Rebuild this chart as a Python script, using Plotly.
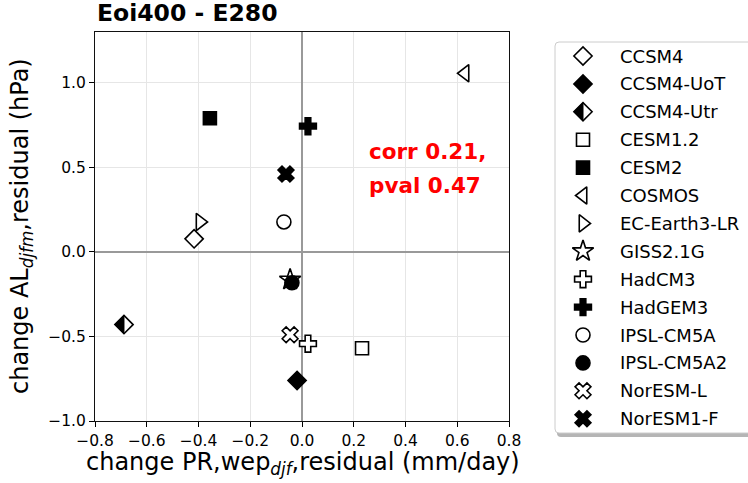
import plotly.graph_objects as go

# ---- data ----
models = ["CCSM4", "CCSM4-UoT", "CCSM4-Utr", "CESM1.2", "CESM2", "COSMOS",
          "EC-Earth3-LR", "GISS2.1G", "HadCM3", "HadGEM3", "IPSL-CM5A",
          "IPSL-CM5A2", "NorESM-L", "NorESM1-F"]
pr_change = [-0.417, -0.019, -0.688, 0.232, -0.356, 0.630,
             -0.394, -0.046, 0.023, 0.023, -0.070,
             -0.039, -0.046, -0.062]
al_change = [0.077, -0.760, -0.430, -0.570, 0.790, 1.056,
             0.177, -0.165, -0.543, 0.743, 0.177,
             -0.183, -0.490, 0.460]
symbols = ["diamond", "diamond", "diamond", "square", "square", "triangle-left",
           "triangle-right", "star", "cross", "cross", "circle",
           "circle", "x", "x"]
fills = ["white", "black", "white", "white", "black", "white",
         "white", "white", "white", "black", "white",
         "black", "white", "black"]
sizes = [14, 14, 14, 13, 13, 15, 15, 16, 14, 14, 14, 14, 14, 14]
half_filled = "CCSM4-Utr"
corr_text = ["corr 0.21,", "pval 0.47"]
x_ticks = [-0.8, -0.6, -0.4, -0.2, 0.0, 0.2, 0.4, 0.6, 0.8]
y_ticks = [-1.0, -0.5, 0.0, 0.5, 1.0]

W, H = 748, 483
FONT = "DejaVu Sans"

fig = go.Figure()

# main scatter
for m, xv, yv, sym, fc, sz in zip(models, pr_change, al_change, symbols, fills, sizes):
    fig.add_trace(go.Scatter(
        x=[xv], y=[yv], mode="markers", name=m, showlegend=False,
        marker=dict(symbol=sym, size=sz, color=fc,
                    line=dict(color="black", width=1.6)),
        xaxis="x", yaxis="y"))

# manual legend on a pixel-coordinate overlay axis
leg_x_marker = 583
leg_x_text = 618
leg_y0 = 56
leg_dy = 27.9
leg_rows = [leg_y0 + leg_dy * i for i in range(len(models))]
for m, sym, fc, sz, ly in zip(models, symbols, fills, sizes, leg_rows):
    fig.add_trace(go.Scatter(
        x=[leg_x_marker], y=[ly], mode="markers", showlegend=False,
        marker=dict(symbol=sym, size=sz, color=fc,
                    line=dict(color="black", width=1.6)),
        xaxis="x2", yaxis="y2", hoverinfo="skip"))
    fig.add_annotation(x=leg_x_text, y=ly, xref="x2", yref="y2", text=m,
                       showarrow=False, xanchor="left", yanchor="middle",
                       font=dict(family=FONT, size=18, color="black"))

shapes = []
# legend box with shadow
L, T, B, R, rad = 555, 42, 433, 770, 4
def rrect(dx, dy):
    return (f"M {L+rad+dx},{T+dy} L {R+dx},{T+dy} L {R+dx},{B+dy} L {L+rad+dx},{B+dy} "
            f"Q {L+dx},{B+dy} {L+dx},{B-rad+dy} L {L+dx},{T+rad+dy} Q {L+dx},{T+dy} {L+rad+dx},{T+dy} Z")
shapes.append(dict(type="path", xref="x2", yref="y2", path=rrect(2, 4),
                   fillcolor="rgba(120,120,120,0.55)", line=dict(width=0), layer="below"))
shapes.append(dict(type="path", xref="x2", yref="y2", path=rrect(0, 0),
                   fillcolor="white", line=dict(color="#cccccc", width=1), layer="below"))

# half-filled diamond (left half black) for CCSM4-Utr
hi = models.index(half_filled)
half_path = "M -9.1,0 L 0,9.1 L 0,-9.1 Z"
shapes.append(dict(type="path", xref="x", yref="y", xsizemode="pixel", ysizemode="pixel",
                   xanchor=pr_change[hi], yanchor=al_change[hi], path=half_path,
                   fillcolor="black", line=dict(color="black", width=1), layer="above"))
shapes.append(dict(type="path", xref="x2", yref="y2", xsizemode="pixel", ysizemode="pixel",
                   xanchor=leg_x_marker, yanchor=leg_rows[hi], path=half_path,
                   fillcolor="black", line=dict(color="black", width=1), layer="above"))

fig.update_layout(shapes=shapes)

# correlation text
fig.add_annotation(x=0.25, y=0.595, xref="x", yref="y", text=f"<b>{corr_text[0]}</b>",
                   showarrow=False, xanchor="left", yanchor="middle",
                   font=dict(family=FONT, size=21.5, color="red"))
fig.add_annotation(x=0.25, y=0.395, xref="x", yref="y", text=f"<b>{corr_text[1]}</b>",
                   showarrow=False, xanchor="left", yanchor="middle",
                   font=dict(family=FONT, size=21.5, color="red"))

# title and axis labels
fig.add_annotation(x=95 / W, y=1 - 13 / H, xref="paper", yref="paper",
                   text="<b>Eoi400 - E280</b>", showarrow=False,
                   xanchor="left", yanchor="middle",
                   font=dict(family=FONT, size=23.5, color="black"))
fig.add_annotation(x=303 / W, y=1 - 463 / H, xref="paper", yref="paper",
                   text="change PR,wep<sub><i>djf</i></sub>,residual (mm/day)",
                   showarrow=False, xanchor="center", yanchor="middle",
                   font=dict(family=FONT, size=24, color="black"))
fig.add_annotation(x=22 / W, y=1 - 226 / H, xref="paper", yref="paper",
                   text="change AL<sub><i>djfm</i></sub>,residual (hPa)",
                   showarrow=False, xanchor="center", yanchor="middle", textangle=-90,
                   font=dict(family=FONT, size=24, color="black"))

axis_common = dict(showline=True, linecolor="#111111", linewidth=1, mirror=True,
                   ticks="outside", ticklen=5, tickwidth=1, tickcolor="black",
                   showgrid=True, gridcolor="#e6e6e6", gridwidth=1,
                   zeroline=True, zerolinecolor="#999999", zerolinewidth=2,
                   tickfont=dict(family=FONT, size=15.5, color="black"),
                   tickformat=".1f", automargin=False)

fig.update_layout(
    width=W, height=H, margin=dict(l=0, r=0, t=0, b=0, pad=0),
    paper_bgcolor="white", plot_bgcolor="rgba(0,0,0,0)",
    font=dict(family=FONT),
    xaxis=dict(domain=[95 / W, 509 / W], range=[-0.8, 0.8], tickvals=x_ticks, **axis_common),
    yaxis=dict(domain=[1 - 421 / H, 1 - 32 / H], range=[-1.0, 1.3], tickvals=y_ticks, **axis_common),
    xaxis2=dict(domain=[0, 1], range=[0, W], visible=False, fixedrange=True, automargin=False),
    yaxis2=dict(domain=[0, 1], range=[H, 0], visible=False, fixedrange=True, automargin=False),
    showlegend=False,
)

fig.write_html("out.html")
